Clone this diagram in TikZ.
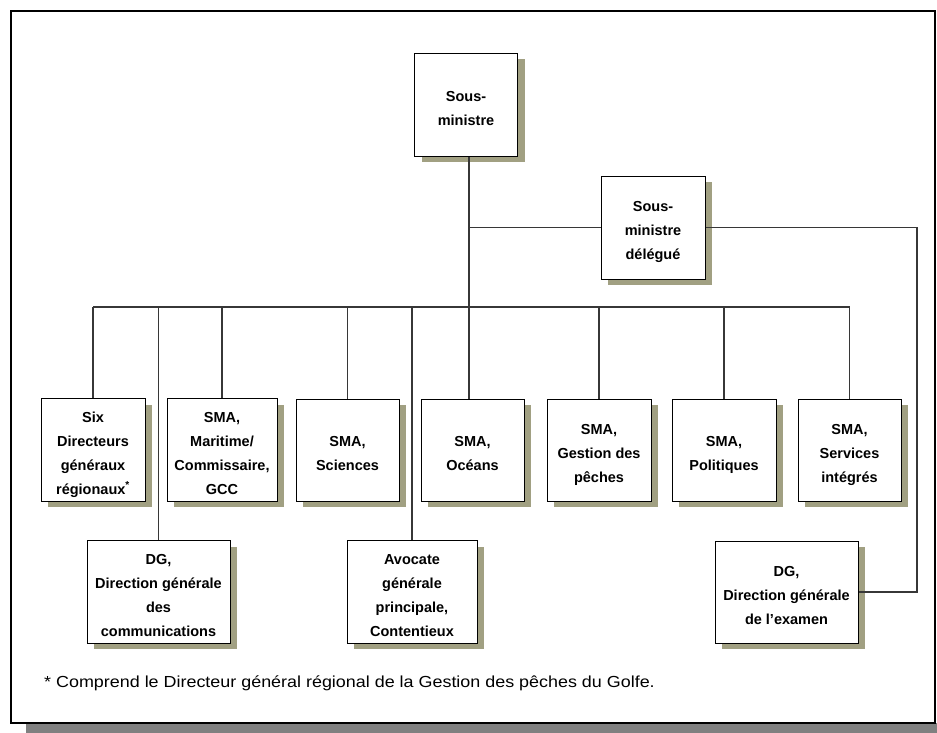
\documentclass[tikz,border=0pt]{standalone}
\usepackage{fontspec}
\setmainfont{Liberation Sans}
\usetikzlibrary{shadows}
\definecolor{khaki}{RGB}{161,160,130}
\definecolor{conn}{RGB}{55,55,55}
\definecolor{outershadow}{RGB}{128,128,128}
\newcommand{\orgtxt}[1]{\begin{tabular}{@{}c@{}}\rule{0pt}{23.5pt}#1\end{tabular}}
\tikzset{
  orgbox/.style={draw=black, line width=1pt, fill=white,
    inner sep=0pt, font=\fontsize{14.5}{24}\selectfont\bfseries,
    drop shadow={shadow xshift=7pt, shadow yshift=-6pt, fill=khaki, opacity=1}},
  link/.style={draw=conn, line width=1.1pt}
}
\begin{document}
\begin{tikzpicture}[x=1pt,y=-1pt]
\useasboundingbox (0,0) rectangle (937,733);
% outer frame and shadow
\fill[outershadow] (26,723) rectangle (937,733);
\draw[line width=2pt, fill=white] (11,11) rectangle (935,723);

% top boxes
\node[orgbox, minimum width=103pt, minimum height=103pt] (sm) at (466,105) {\orgtxt{Sous-\\ministre}};
\node[orgbox, minimum width=104pt, minimum height=103pt] (smd) at (653,227.5) {\orgtxt{Sous-\\ministre\\délégué}};

% row boxes
\node[orgbox, minimum width=104pt, minimum height=102pt] (six) at (93,450) {\orgtxt{Six\\Directeurs\\généraux\\régionaux\textsuperscript{*}}};
\node[orgbox, minimum width=110pt, minimum height=102pt] (mar) at (222,450) {\orgtxt{SMA,\\Maritime/\\Commissaire,\\GCC}};
\node[orgbox, minimum width=103pt, minimum height=102pt] (sci) at (347.5,450) {\orgtxt{SMA,\\Sciences}};
\node[orgbox, minimum width=103pt, minimum height=102pt] (oce) at (472.5,450) {\orgtxt{SMA,\\Océans}};
\node[orgbox, minimum width=104pt, minimum height=102pt] (ges) at (599,450) {\orgtxt{SMA,\\Gestion des\\pêches}};
\node[orgbox, minimum width=104pt, minimum height=102pt] (pol) at (724,450) {\orgtxt{SMA,\\Politiques}};
\node[orgbox, minimum width=103pt, minimum height=102pt] (ser) at (849.5,450) {\orgtxt{SMA,\\Services\\intégrés}};

% bottom boxes
\node[orgbox, minimum width=143pt, minimum height=102pt] (dgc) at (158.5,592) {\orgtxt{DG,\\Direction générale\\des\\communications}};
\node[orgbox, minimum width=130pt, minimum height=102pt] (ava) at (412,592) {\orgtxt{Avocate\\générale\\principale,\\Contentieux}};
\node[orgbox, minimum width=143pt, minimum height=102pt] (dge) at (786.5,592) {\orgtxt{DG,\\Direction générale\\de l'examen}};

% helper coordinates
\coordinate (bus) at (0,307);
\coordinate (xr) at (917,0);
\coordinate (main) at (469,0);

% connectors
\draw[link] (sm.south -| main) -- (bus -| main);
\draw[link] (smd.west) -- (smd.west -| main);
\draw[link] (bus -| six.north) -- (bus -| ser.north);
\draw[link] (bus -| main) -- (oce.north -| main);
\draw[link] (bus -| six.north) -- (six.north);
\draw[link] (bus -| mar.north) -- (mar.north);
\draw[link] (bus -| sci.north) -- (sci.north);
\draw[link] (bus -| ges.north) -- (ges.north);
\draw[link] (bus -| pol.north) -- (pol.north);
\draw[link] (bus -| ser.north) -- (ser.north);
\draw[link] (bus -| dgc.north) -- (dgc.north);
\draw[link] (bus -| ava.north) -- (ava.north);
\draw[link] (smd.east) -- (smd.east -| xr) -- (dge.east -| xr) -- (dge.east);

% footnote
\node[anchor=west, inner sep=0pt, font=\fontsize{16}{18}\selectfont] (note) at (44,683)
  {\scalebox{1.12}[1]{* Comprend le Directeur général régional de la Gestion des pêches du Golfe.}};
\end{tikzpicture}
\end{document}
